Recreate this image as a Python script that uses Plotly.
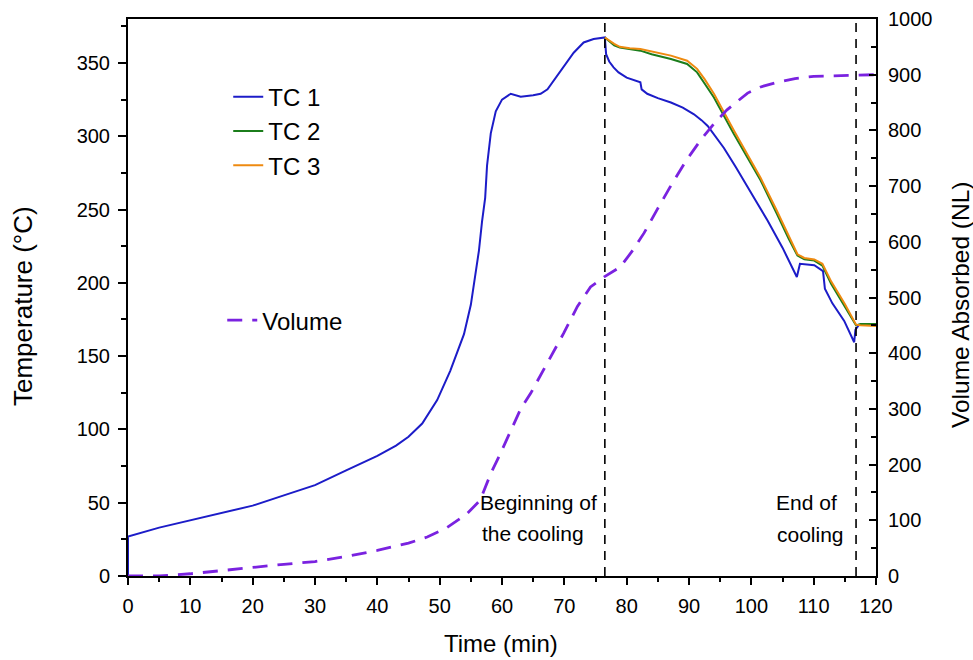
import plotly.graph_objects as go

# --- data ------------------------------------------------------------------
t_tc1 = [0, 0, 5, 10, 15, 20, 25, 30, 35, 40, 43, 45, 47.2, 48.5, 49.6, 51.7,
         53, 53.9, 55, 55.5, 56.3, 56.8, 57.3, 57.6, 58.2, 59, 60, 61.4, 63,
         65, 66.2, 67.3, 68.5, 69.4, 70.5, 71.5, 73.1, 74.7, 76.5, 76.7, 77.2,
         77.9, 78.7, 80, 82.2, 82.4, 83.3, 85, 87.1, 89, 90.8, 92, 93, 95.6,
         97.5, 99.4, 101, 102.6, 105, 107.3, 107.8, 110.1, 111.5, 111.8, 113,
         114.9, 116.5, 116.7, 117.2, 117.9, 120]
tc1 = [0, 27, 33, 38, 43, 48, 55, 62, 72, 82, 89, 95, 104, 113, 120, 140,
       155, 165, 185, 199, 222, 242, 258, 280, 302, 317, 325, 329, 327,
       328, 329, 332, 339, 345, 351, 357, 364, 366.3, 367.4, 356, 351,
       347, 343.6, 340, 336.8, 332, 329, 326, 323, 319.5, 315, 311, 307, 292,
       279, 265, 254, 242.5, 224, 204, 213, 212, 208, 196, 186,
       174, 159.5, 168, 171, 172, 172]

t_tc23 = [76.5, 78, 78.9, 80.5, 82.2, 84, 87.1, 89.7, 91.3, 92.5, 94, 97.2,
          101.5, 104, 106, 107.4, 108.5, 110.1, 111.4, 112.8, 115, 116.8,
          117.5, 120]
tc2 = [367.4, 362, 360.6, 359.5, 358.4, 356, 352.7, 349.3, 343.6, 336, 326.5,
       301.6, 269.8, 248, 230, 218.6, 216, 215.2, 211.8, 199.3, 184, 171,
       172, 172]
tc3 = [367.4, 363, 361, 360, 359.5, 358, 355, 351.5, 346, 339, 329,
       304, 271.5, 250, 232, 219.5, 217, 216, 213, 201, 185.5, 171.5,
       171, 170.5]

t_vol = [0, 5, 10, 15, 20, 25, 30, 35, 40, 45, 48, 50.9, 52.5, 54.4, 56.5,
         57.3, 58.2, 59.5, 60.8, 63, 64.6, 66.7, 69.9, 72.1, 74.2, 76.4, 79,
         81, 82.8, 85, 87, 89.5, 91.9, 94, 96.1, 99.4, 101.5, 103.7, 107,
         110, 115, 120]
volume = [0, 0, 4, 10, 16, 21, 26, 35, 46, 59, 70, 85, 97, 112, 136,
          157, 184, 214, 247, 300, 328, 370, 436, 484, 519, 537, 555,
          585, 616, 660, 699, 745, 783, 812, 837, 867, 878, 885, 893,
          897, 899, 900]

cooling_start = 76.5
cooling_end = 116.8

FONT = "Liberation Sans, Arial, sans-serif"

fig = go.Figure()

fig.add_trace(go.Scatter(x=t_tc1, y=tc1, name="TC 1", mode="lines",
                         line=dict(color="#1c1cc8", width=2)))
fig.add_trace(go.Scatter(x=t_tc23, y=tc2, name="TC 2", mode="lines",
                         line=dict(color="#1b7d1b", width=2)))
fig.add_trace(go.Scatter(x=t_tc23, y=tc3, name="TC 3", mode="lines",
                         line=dict(color="#ee8a10", width=2)))
fig.add_trace(go.Scatter(x=t_vol, y=volume, name="Volume", mode="lines",
                         yaxis="y2", legend="legend2",
                         line=dict(color="#7a22e0", width=2.8, dash="15px,10px")))

for xv in (cooling_start, cooling_end):
    fig.add_vline(x=xv, line=dict(color="black", width=1.6, dash="9px,7px"))

# annotation text next to the cooling markers
notes = [(cooling_start, 50, "Beginning of", -6),
         (cooling_start, 29, "the cooling", -19),
         (cooling_end, 50, "End of", -17),
         (cooling_end, 28, "cooling", -10)]
for xv, yv, txt, shift in notes:
    fig.add_annotation(x=xv, y=yv, xref="x", yref="y", text=txt,
                       showarrow=False, xanchor="right", xshift=shift,
                       font=dict(family=FONT, size=21, color="black"))

# axis titles
titles = [(-0.1404, 0.4847, "Temperature (°C)", -90, 26),
          (1.1123, 0.4865, "Volume Absorbed (NL)", -90, 24.5),
          (0.4987, -0.1203, "Time (min)", 0, 24)]
for xp, yp, txt, ang, sz in titles:
    fig.add_annotation(x=xp, y=yp, xref="paper", yref="paper", text=txt,
                       textangle=ang, showarrow=False,
                       xanchor="center", yanchor="middle",
                       font=dict(family=FONT, size=sz, color="black"))

fig.update_layout(
    width=973, height=660,
    margin=dict(l=128, r=97, t=19, b=84),
    paper_bgcolor="white", plot_bgcolor="white",
    font=dict(family=FONT, size=20, color="black"),
    showlegend=True,
    legend=dict(x=0.134, y=0.90, xanchor="left", yanchor="top",
                bgcolor="rgba(0,0,0,0)", font=dict(size=24),
                tracegroupgap=0),
    legend2=dict(x=0.126, y=0.499, xanchor="left", yanchor="top",
                 bgcolor="rgba(0,0,0,0)", font=dict(size=24)),
    xaxis=dict(range=[0, 120], dtick=10, showgrid=False, zeroline=False,
               showline=True, linecolor="black", linewidth=2, mirror=True,
               ticks="outside", ticklen=7, tickwidth=1.5, tickcolor="black",
               ticklabelstandoff=4, automargin=False,
               minor=dict(dtick=5, ticks="outside", ticklen=4, tickcolor="black")),
    yaxis=dict(range=[0, 380], dtick=50, showgrid=False, zeroline=False,
               showline=True, linecolor="black", linewidth=2,
               ticks="outside", ticklen=8, tickwidth=1.5, tickcolor="black",
               ticklabelstandoff=4, automargin=False,
               minor=dict(dtick=25, ticks="outside", ticklen=5, tickcolor="black")),
    yaxis2=dict(range=[0, 1000], dtick=100, overlaying="y", side="right",
                showgrid=False, zeroline=False, showline=True,
                linecolor="black", linewidth=2, automargin=False,
                ticks="inside", ticklen=7, tickwidth=1.5, tickcolor="black",
                ticklabelstandoff=6,
                minor=dict(dtick=50, ticks="inside", ticklen=5, tickcolor="black")),
)

# drop the default 8px body margin so the figure fills the window exactly
fig.write_html("out.html", config={"displayModeBar": False},
               post_script="document.body.style.margin = '0px';")
